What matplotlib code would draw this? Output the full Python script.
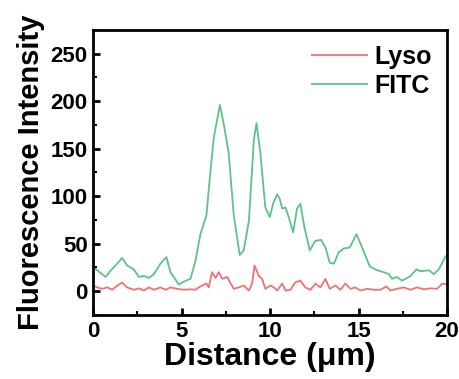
import matplotlib

matplotlib.use("Agg")
import matplotlib.pyplot as plt
from matplotlib.ticker import MultipleLocator

# FITC line profile (distance in um, intensity)
fitc_x = [0.0, 0.23, 0.7, 1.0, 1.36, 1.64, 1.92, 2.3, 2.58, 2.86, 3.15, 3.43, 3.8,
          4.14, 4.37, 4.84, 5.12, 5.5, 5.78, 6.06, 6.4, 6.63, 6.82, 7.16, 7.38,
          7.66, 7.94, 8.28, 8.51, 8.8, 9.08, 9.23, 9.45, 9.73, 9.98, 10.17, 10.4,
          10.55, 10.68, 10.87, 11.05, 11.3, 11.52, 11.71, 11.94, 12.24, 12.56,
          12.88, 13.13, 13.37, 13.6, 13.88, 14.16, 14.5, 14.88, 15.2, 15.63,
          16.05, 16.42, 16.7, 16.9, 17.17, 17.46, 17.93, 18.27, 18.5, 18.97,
          19.25, 19.53, 19.9, 20.0]
fitc_y = [25, 22, 15, 22, 29, 35, 27, 23, 15, 16, 14, 18, 29, 36, 20, 7, 10, 13,
          32, 60, 80, 127, 162, 196, 176, 145, 81, 38, 43, 74, 159, 177, 145, 88,
          78, 92, 102, 97, 87, 88, 78, 62, 87, 92, 67, 43, 53, 54, 46, 30, 29, 41,
          45, 46, 60, 46, 26, 22, 20, 18, 13, 15, 11, 16, 23, 21, 22, 18, 23, 36, 38]

# Lyso line profile
lyso_x = [0.0, 0.23, 0.51, 0.8, 1.08, 1.36, 1.64, 1.92, 2.3, 2.58, 2.86, 3.15,
          3.43, 3.8, 4.09, 4.37, 4.75, 5.12, 5.5, 5.78, 6.06, 6.4, 6.53, 6.72,
          6.91, 7.1, 7.29, 7.57, 7.94, 8.23, 8.51, 8.8, 8.98, 9.12, 9.36, 9.55,
          9.73, 10.02, 10.21, 10.4, 10.68, 10.87, 11.15, 11.43, 11.71, 11.99,
          12.28, 12.56, 12.84, 13.13, 13.37, 13.69, 13.97, 14.25, 14.54, 14.82,
          15.1, 15.48, 15.86, 16.23, 16.57, 16.8, 17.17, 17.55, 17.93, 18.3,
          18.68, 19.06, 19.44, 19.72, 20.0]
lyso_y = [6, 4, 2.5, 4, 1.5, 6, 9, 4, 1.5, 3, 0.7, 4, 1.5, 4, 1.5, 4, 2.5, 1.5, 2,
          1.5, 5, 8, 4, 20, 14, 20, 13, 15, 2.5, 4, 6, 0.7, 8, 27, 16, 13, 2.5, 6,
          4, 0.7, 8, 0.7, 1.5, 9.5, 11, 4, 1.5, 8, 4, 13, 2.5, 6, 1.5, 8, 2.5, 4,
          0.7, 2.5, 1.5, 1.5, 5, 0.7, 2.5, 4, 1.5, 4, 2, 3, 2.5, 8, 7]

plt.rcParams["font.family"] = ["Liberation Sans", "DejaVu Sans"]
plt.rcParams["font.weight"] = "bold"

fig = plt.figure(figsize=(4.59, 3.79), dpi=100)
ax = fig.add_axes([0.203, 0.169, 0.771, 0.752])

ax.plot(lyso_x, lyso_y, color="#f07272", lw=1.3, label="Lyso")
ax.plot(fitc_x, fitc_y, color="#5cc38a", lw=1.3, label="FITC")

ax.set_xlim(0, 20)
ax.set_ylim(-25, 275)
ax.xaxis.set_major_locator(MultipleLocator(5))
ax.xaxis.set_minor_locator(MultipleLocator(2.5))
ax.yaxis.set_minor_locator(MultipleLocator(25))
ax.set_yticks([0, 50, 100, 150, 200, 250])

for s in ax.spines.values():
    s.set_linewidth(2)
ax.tick_params(which="major", direction="in", length=5, width=2,
               labelsize=16, pad=4)
ax.tick_params(which="minor", direction="in", length=3, width=1.5)
for lbl in ax.get_xticklabels() + ax.get_yticklabels():
    lbl.set_fontweight("bold")

ax.set_xlabel("Distance (μm)", fontsize=23, fontweight="bold", labelpad=0)
ax.set_ylabel("Fluorescence Intensity", fontsize=21, fontweight="bold", labelpad=4)

leg = ax.legend(loc="upper right", frameon=False, fontsize=18, handlelength=2.2,
                handletextpad=0.3, borderaxespad=0.2, labelspacing=0.2)
for t in leg.get_texts():
    t.set_fontweight("bold")

fig.savefig("out.png", dpi=100)
